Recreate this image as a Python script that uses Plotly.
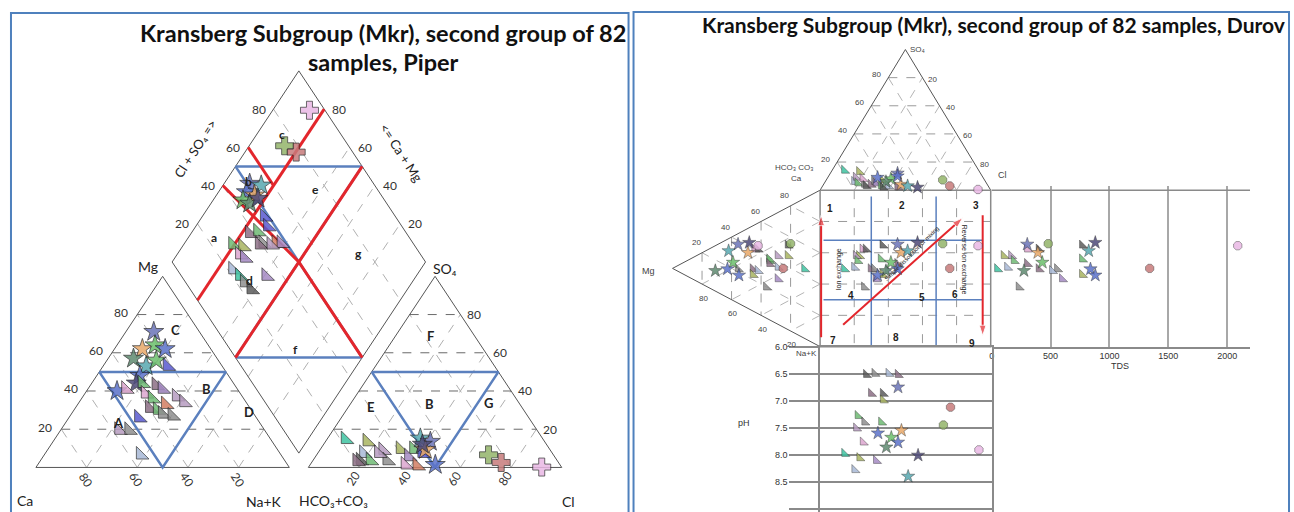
import plotly.graph_objects as go

W, H = 1294, 512

# ---------------- values ----------------
GRID = [20, 40, 60, 80]

# Piper, cation triangle: Mg % and Na+K % (Ca is the rest)
pip_cat_mg = [71, 62, 64, 62, 57, 53, 56, 48, 44, 40,
              41, 44, 43, 41, 38.5, 36, 37, 34, 31, 30, 33, 28, 27, 26, 19.5, 19.5, 6.6, 53]
pip_cat_na = [11, 11, 15, 20, 10, 17, 19.5, 17, 17.6, 12,
              15, 20, 26, 29.4, 24, 28, 37, 41.4, 29.4, 33, 34.7, 36, 40.3, 27.6, 23, 27, 38, 25.4]
pip_cat_id = ["S1", "S2", "S3", "S4", "S5", "S6", "S3", "S4", "S7", "S4",
              "T4", "T2", "T3", "T1", "T4", "T2", "T12", "T12", "T3", "T2", "T5", "T6", "T6", "T8",
              "T12", "T6", "T11", "T8"]

# Piper, anion triangle: SO4 % and Cl % (HCO3+CO3 is the rest)
pip_an_so4 = [14.7, 13.5, 9, 7.4, 3.6, 3.6, 3.6, 9.5, 9.5, 5.7, 1.4, 0.9, 7.4, 7.4, 3.1,
              15.2, 13.5, 1.4, 9.2, 12, 6.6, 2.6, 0.2]
pip_an_cl = [7.3, 16.5, 25, 18.2, 18.8, 22.7, 29.3, 31.6, 36.9, 36.8, 37.6, 42.5, 41.2, 24.1, 17.7,
             36.6, 41.4, 49.4, 41.6, 39, 67.8, 74.8, 92]
pip_an_id = ["T9", "T10", "T12", "T11", "T7", "T2", "T6", "T10", "T2", "T1", "T4", "T5", "T8", "T12", "T3",
             "S6", "S1", "S4", "S2", "S7", "X2", "X3", "X1"]

# Piper, diamond: Na+K % and Cl+SO4 %
pip_dia_na = [10.1, 15.1, 11, 15.1, 11.8, 15.3, 17.3,
              24.7, 28.5, 23.1, 25.9, 31, 36.2, 38.2, 19.5, 23.9, 24.8, 27.6, 30, 34.6, 26, 30.4, 34, 38.4, 40.8,
              14.5, 14, 20.2]
pip_dia_clso4 = [51.1, 55.2, 47.6, 50, 44.1, 45.9, 50.5,
                 48.3, 47, 38.1, 41.8, 40.8, 46, 48, 28.5, 32, 28.6, 29.7, 39, 43.6, 22, 23, 23.2, 24, 33.4,
                 93.9, 74.8, 77.7]
pip_dia_id = ["S1", "S6", "S4", "S2", "S3", "S5", "S7",
              "T8", "T8", "T3", "T2", "T6", "T5", "T1", "T2", "T10", "T4", "T1", "T3", "T12", "T11", "T9", "T6",
              "T7", "T1", "X1", "X2", "X3"]

# Durov samples
dur_so4 = [14, 13, 6, 9, 5, 4, 8, 3, 4, 6, 5, 3, 2, 7, 3, 2, 12, 4, 8, 10, 6, 3, 2, 9, 7.3, 3, 0.5]
dur_cl = [7.2, 16.5, 17.1, 16.6, 19.5, 23.9, 21, 25.4, 27.8, 28.8, 30.2, 34.2, 35.7, 33.2, 38.5, 44.4,
          39.4, 45.4, 37.5, 40.4, 35.6, 49.8, 56.1, 29.2, 68.2, 74.5, 92.3]
dur_mg = [10.6, 21.8, 28.6, 28.6, 34.3, 36.5, 44.4, 42.1, 45.5, 55.6, 28.6, 34.3, 21.8, 45.5, 42.1, 34.3,
          55.6, 48.9, 59, 62.8, 71, 62, 48, 55, 20, 25, 42]
dur_na = [45.1, 31.1, 35.1, 27.7, 28, 43.8, 15.6, 16.8, 27.7, 22.6, 42.5, 27, 24.4, 31.3, 30.5, 29.9,
          6.8, 15.5, 16.7, 19, 16, 7.8, 9.5, 26.9, 24.2, 37.5, 14.5]
dur_tds = [48, 104, 133, 167, 189, 231, 302, 401, 401, 557, 599, 769, 769, 769, 514, 302,
           302, 392, 430, 839, 274, 824, 880, 880, 480, 1342, 2090]
dur_ph = [7.98, 8.06, 8.28, 7.51, 7.28, 7.4, 7.77, 6.52, 6.87, 6.5, 8.11, 7.4, 6.87, 6.99, 6.5, 6.52,
          6.75, 7.55, 7.68, 7.77, 7.86, 8.4, 8.01, 7.6, 7.45, 7.12, 7.91]
dur_id = ["T9", "T10", "T11", "T12", "T2", "T6", "T4", "T7", "T3", "T6", "T1", "T2", "T7", "T10", "T11", "T3",
          "S1", "S2", "S3", "S4", "S5", "S6", "S7", "S4", "X2", "X3", "X1"]

ph_ticks = [6.0, 6.5, 7.0, 7.5, 8.0, 8.5, 9.0]
tds_ticks = [0, 500, 1000, 1500, 2000]

# classification lines (percent values)
piper_red = [[(20, 0), (20, 100)], [(0, 60), (20, 60)], [(0, 40), (50, 50), (100, 50)], [(50, 0), (50, 100)]]
piper_blue = [[(0, 50), (50, 100)], [(50, 0), (100, 50)], [(0, 50), (100, 50)], [(50, 0), (50, 100)]]
dur_blue_x = [30, 68]
dur_blue_y = [32, 70]
dur_arrows = [[(0.6, 94), (0.6, 16)], [(95.3, 16), (95.3, 93)], [(13.5, 86), (83.6, 17.7)]]

# ---------------- styles ----------------
COLORS = {
    "S1": "#6b74b8", "S2": "#e8a868", "S3": "#6cbf6c", "S4": "#5b72c9", "S5": "#5f8a70",
    "S6": "#58a8b0", "S7": "#4e4a78",
    "T1": "#a58ac4", "T2": "#6fba74", "T3": "#8d6f86", "T4": "#dca6cf", "T5": "#d27d62",
    "T6": "#8f8f8f", "T7": "#5c5c5c", "T8": "#5a5ad0", "T9": "#3fc4a2", "T10": "#a9b461",
    "T11": "#a9b9d6", "T12": "#b79cc0",
    "X1": "#e9b8e4", "X2": "#93b46a", "X3": "#c77b7b",
}
PIPER_SYM = {"S": ("star", 15), "T": ("triangle-sw", 14), "X": ("cross", 15)}
DUROV_SYM = {"S": ("star", 10), "T": ("triangle-sw", 9), "X": ("octagon", 9)}
RED = "#e3262c"
BLUE = "#5b80be"
FRAME = "#4f81bd"
PF = "Lato"
DF = "Liberation Sans"

# ---------------- geometry ----------------
GAP = 7.5


def cat_xy(mg, na):
    return na + mg / 2, mg


def an_xy(so4, cl):
    return 100 + GAP + cl + so4 / 2, so4


def dia_xy(na, clso4):
    return 50 + GAP / 2 + (na + clso4) / 2, 100 + GAP + clso4 - na


TOP_H, LEFT_W = 89.9, 86.5


def top_xy(so4, cl):
    return cl + so4 / 2, -so4 * TOP_H / 100


def left_xy(mg, na):
    return -mg * LEFT_W / 100, na + mg / 2


def sq_xy(x, y):
    return x, y


fig = go.Figure()


def seg(fn, pairs):
    return [fn(*p) for p in pairs]


def add_lines(segs, xa, ya, color, width=1.0, dash="solid"):
    xs, ys = [], []
    for s in segs:
        for x, y in s:
            xs.append(x)
            ys.append(y)
        xs.append(None)
        ys.append(None)
    fig.add_trace(go.Scatter(x=xs, y=ys, mode="lines", xaxis=xa, yaxis=ya,
                             line=dict(color=color, width=width, dash=dash),
                             hoverinfo="skip", showlegend=False))


def add_points(xs, ys, ids, xa, ya, symtab, lw=1.0):
    fig.add_trace(go.Scatter(
        x=xs, y=ys, mode="markers", xaxis=xa, yaxis=ya, showlegend=False, cliponaxis=False,
        marker=dict(symbol=[symtab[i[0]][0] for i in ids], size=[symtab[i[0]][1] for i in ids],
                    color=[COLORS[i] for i in ids], opacity=0.85,
                    line=dict(color="rgba(30,30,30,0.75)", width=lw))))


def txt(text, x, y, xr="x", yr="y", size=12, angle=0, dx=0, dy=0, anchor="center",
        color="#222", family=PF, bold=False):
    fig.add_annotation(text=text, x=x, y=y, xref=xr, yref=yr, showarrow=False, textangle=angle,
                       xshift=dx, yshift=-dy, xanchor=anchor, yanchor="middle",
                       font=dict(size=size, color=color, family=family, weight="bold" if bold else "normal"))


# ================= Piper =================
add_lines([seg(dia_xy, [(k, 0), (k, 100)]) for k in GRID] + [seg(dia_xy, [(0, k), (100, k)]) for k in GRID],
          "x", "y", "#b0b0b0", 1, "dash")
add_lines([seg(cat_xy, [(0, k), (100 - k, k)]) for k in GRID] +
          [seg(cat_xy, [(0, 100 - k), (100 - k, 0)]) for k in GRID] +
          [seg(an_xy, [(0, k), (100 - k, k)]) for k in GRID] +
          [seg(an_xy, [(0, 100 - k), (100 - k, 0)]) for k in GRID],
          "x", "y", "#b0b0b0", 1, "dash")
add_lines([seg(cat_xy, [(k, 0), (k, 100 - k)]) for k in GRID] +
          [seg(an_xy, [(k, 0), (k, 100 - k)]) for k in GRID],
          "x", "y", "#6a6a6a", 1, "dash")
add_lines([seg(cat_xy, [(0, 0), (100, 0), (0, 100), (0, 0)]),
           seg(an_xy, [(0, 0), (100, 0), (0, 100), (0, 0)]),
           seg(dia_xy, [(0, 0), (100, 0), (100, 100), (0, 100), (0, 0)])],
          "x", "y", "#555555", 1)
add_lines([seg(cat_xy, [(50, 0), (50, 50), (0, 50), (50, 0)]),
           seg(an_xy, [(50, 0), (50, 50), (0, 50), (50, 0)])] +
          [seg(dia_xy, s) for s in piper_blue], "x", "y", BLUE, 2.5)
add_lines([seg(dia_xy, s) for s in piper_red], "x", "y", RED, 3)

for mg_, na_, lab in [(72, 19, "C"), (41, 47, "B"), (29, 69.4, "D"), (23, 21, "A")]:
    txt(lab, *cat_xy(mg_, na_), size=13, bold=True)
for s_, c_, lab in [(69, 13.6, "F"), (31.6, 8.6, "E"), (33, 31.4, "B"), (33.7, 54.4, "G")]:
    txt(lab, *an_xy(s_, c_), size=13, bold=True)
for n_, a_, lab in [(10, 23, "a"), (9.3, 51.3, "b"), (10, 76.5, "c"), (35.6, 25.8, "d"),
                    (37.8, 75.6, "e"), (71.6, 26, "f"), (71.5, 75.7, "g")]:
    txt(lab, *dia_xy(n_, a_), size=12, bold=True)

add_points(*zip(*[cat_xy(m, n) for m, n in zip(pip_cat_mg, pip_cat_na)]), pip_cat_id, "x", "y", PIPER_SYM)
add_points(*zip(*[an_xy(s, c) for s, c in zip(pip_an_so4, pip_an_cl)]), pip_an_id, "x", "y", PIPER_SYM)
add_points(*zip(*[dia_xy(n, a) for n, a in zip(pip_dia_na, pip_dia_clso4)]), pip_dia_id, "x", "y", PIPER_SYM)

for k in GRID:
    txt(str(k), *cat_xy(k, 0), size=12, dx=-7, dy=-2, anchor="right", color="#333")
    txt(str(k), *cat_xy(0, 100 - k), size=12, angle=57, dx=-1, dy=12, color="#333")
    txt(str(k), *an_xy(k, 100 - k), size=12, dx=5, anchor="left", color="#333")
    txt(str(k), *an_xy(0, k), size=12, angle=-57, dx=-6, dy=11, color="#333")
    txt(str(k), *dia_xy(0, k), size=12, dx=-6, anchor="right", color="#333")
    txt(str(k), *dia_xy(100 - k, 100), size=12, dx=6, anchor="left", color="#333")

txt("Mg", *cat_xy(100, 0), size=14, dx=-15, dy=-10)
txt("Ca", *cat_xy(0, 0), size=14, dx=-11, dy=33)
txt("Na+K", *cat_xy(0, 100), size=14, dx=-25, dy=34)
txt("SO₄", *an_xy(100, 0), size=14, dx=10, dy=-8)
txt("HCO₃+CO₃", *an_xy(0, 0), size=14, dx=25, dy=33)
txt("Cl", *an_xy(0, 100), size=14, dx=7, dy=34)
txt("Cl + SO₄ =&gt;", *dia_xy(0, 62), size=13, angle=-57, dx=-56, dy=5)
txt("&lt;= Ca + Mg", *dia_xy(44, 100), size=13, angle=57, dx=47, dy=-2)

# ================= Durov =================
add_lines([seg(top_xy, [(0, k), (100 - k, k)]) for k in GRID] +
          [seg(top_xy, [(100 - k, 0), (0, 100 - k)]) for k in GRID] +
          [seg(left_xy, [(0, k), (100 - k, k)]) for k in GRID] +
          [seg(left_xy, [(0, 100 - k), (100 - k, 0)]) for k in GRID],
          "x2", "y2", "#b5b5b5", 1, "dash")
add_lines([seg(top_xy, [(k, 0), (k, 100 - k)]) for k in GRID] +
          [seg(left_xy, [(k, 0), (k, 100 - k)]) for k in GRID] +
          [seg(sq_xy, [(k, 0), (k, 100)]) for k in GRID] +
          [seg(sq_xy, [(0, k), (100, k)]) for k in GRID],
          "x2", "y2", "#9a9a9a", 1, "dash")
add_lines([seg(top_xy, [(0, 0), (100, 0), (0, 100)]),
           seg(left_xy, [(0, 0), (100, 0), (0, 100)])], "x2", "y2", "#555555", 1)
add_lines([seg(sq_xy, [(0, 0), (100, 0), (100, 100), (0, 100), (0, 0)])], "x2", "y2", "#8a8a8a", 1.5)
add_lines([[(v, 4), (v, 100)] for v in dur_blue_x] + [[(2, v), (95, v)] for v in dur_blue_y],
          "x2", "y2", BLUE, 1.5)

for arrow in dur_arrows:
    ax_, ay_ = zip(*arrow)
    fig.add_trace(go.Scatter(x=ax_, y=ay_, mode="lines+markers", xaxis="x2", yaxis="y2", showlegend=False,
                             hoverinfo="skip", line=dict(color=RED, width=2),
                             marker=dict(symbol="arrow", size=[0, 11], angleref="previous", color=RED)))

for lab, x, y in [("1", 5.8, 12), ("2", 48, 9.5), ("3", 91.2, 9.5), ("4", 18.1, 67), ("5", 59.6, 68.4),
                  ("6", 79, 66.5), ("7", 7.6, 96.2), ("8", 44.4, 94.3), ("9", 88.9, 98)]:
    txt(lab, x, y, "x2", "y2", size=10, family=DF, bold=True)
txt("Ion exchange", 11.1, 50.6, "x2", "y2", size=7, angle=-90, family=DF)
txt("Reverse ion exchange", 84.2, 44.3, "x2", "y2", size=7, angle=90, family=DF)
txt("Simple dissolution or mixing", 53.6, 41, "x2", "y2", size=6, angle=-45, family=DF)

for k in GRID:
    txt(str(k), *top_xy(k, 0), "x2", "y2", size=8, dx=-5, dy=-3, anchor="right", color="#444", family=DF)
    txt(str(100 - k), *top_xy(k, 100 - k), "x2", "y2", size=8, dx=4, dy=2, anchor="left", color="#444",
        family=DF)
    txt(str(100 - k), *left_xy(k, 0), "x2", "y2", size=8, dx=-6, dy=-10, color="#444", family=DF)
    txt(str(k), *left_xy(k, 100 - k), "x2", "y2", size=8, dx=1, dy=14, color="#444", family=DF)

txt("SO₄", *top_xy(100, 0), "x2", "y2", size=8, dx=3, anchor="left", color="#444", family=DF)
txt("HCO₃ CO₃", *top_xy(0, 0), "x2", "y2", size=8, dx=-26, dy=-23, color="#444", family=DF)
txt("Ca", *top_xy(0, 0), "x2", "y2", size=8, dx=-24, dy=-12, color="#444", family=DF)
txt("Cl", *top_xy(0, 100), "x2", "y2", size=9, dx=12, dy=-15, color="#444", family=DF)
txt("Mg", *left_xy(100, 0), "x2", "y2", size=9, dx=-24, dy=3, color="#444", family=DF)
txt("Na+K", *left_xy(0, 100), "x2", "y2", size=8, dx=-14, dy=7, color="#444", family=DF)

sx = [c + s / 2 for s, c in zip(dur_so4, dur_cl)]
sy = [n + m / 2 for m, n in zip(dur_mg, dur_na)]
add_points(*zip(*[top_xy(s, c) for s, c in zip(dur_so4, dur_cl)]), dur_id, "x2", "y2", DUROV_SYM, 0.6)
add_points(*zip(*[left_xy(m, n) for m, n in zip(dur_mg, dur_na)]), dur_id, "x2", "y2", DUROV_SYM, 0.6)
add_points(sx, sy, dur_id, "x2", "y2", DUROV_SYM, 0.6)
add_points(dur_tds, sy, dur_id, "x3", "y3", DUROV_SYM, 0.6)
add_points(sx, dur_ph, dur_id, "x4", "y4", DUROV_SYM, 0.6)

fig.add_shape(type="line", xref="x3", yref="y3", x0=0, x1=2195, y0=0, y1=0,
              line=dict(color="#8a8a8a", width=1.5))
txt("TDS", 1090, 1 - 365 / H, "x3", "paper", size=9, color="#333", family=DF)
txt("pH", 743 / W, 7.42, "paper", "y4", size=9, color="#333", family=DF)

# ================= frames and titles =================
for x0, x1, y1 in [(8, 627, 8), (632, 1289, 7)]:
    fig.add_shape(type="rect", xref="paper", yref="paper", x0=x0 / W, x1=x1 / W, y0=-0.1, y1=1 - y1 / H,
                  line=dict(color=FRAME, width=2))
txt("Kransberg Subgroup (Mkr), second group of 82", 381 / W, 1 - 28 / H, "paper", "paper", size=23.5,
    color="#111", bold=True)
txt("samples, Piper", 381 / W, 1 - 58 / H, "paper", "paper", size=23.5, color="#111", bold=True)
txt("Kransberg Subgroup (Mkr), second group of 82 samples, Durov", 993 / W, 1 - 20 / H,
    "paper", "paper", size=21, color="#111", bold=True)

hidden = dict(visible=False, fixedrange=True)
fig.update_layout(
    width=W, height=H, margin=dict(l=0, r=0, t=0, b=0),
    paper_bgcolor="white", plot_bgcolor="rgba(0,0,0,0)", showlegend=False,
    xaxis=dict(domain=[0, 627 / W], range=[-33 / 2.54, 594 / 2.54], **hidden),
    yaxis=dict(domain=[0, 1], range=[-45 / 1.93, 467 / 1.93], **hidden),
    xaxis2=dict(domain=[632 / W, 1], range=[-187 / 1.71, 475 / 1.71], **hidden),
    yaxis2=dict(domain=[0, 1], range=[325 / 1.58, -187 / 1.58], **hidden),
    xaxis3=dict(domain=[991 / W, 1250 / W], anchor="y3", range=[0, 259 / 59 * 500], tickvals=tds_ticks,
                showgrid=True, gridcolor="#a8a8a8", gridwidth=2, zeroline=False, showline=True,
                linecolor="#8a8a8a", linewidth=1.5, ticks="", tickfont=dict(size=9, color="#333", family=DF),
                fixedrange=True),
    yaxis3=dict(domain=[167 / H, 329 / H], anchor="x3", range=[100, -2.53], visible=False, fixedrange=True),
    xaxis4=dict(domain=[819 / W, 991 / W], anchor="y4", range=[0, 100], showline=True, mirror=True,
                linecolor="#8a8a8a", linewidth=1.5, showgrid=False, zeroline=False, showticklabels=False,
                ticks="", fixedrange=True),
    yaxis4=dict(domain=[0, 167 / H], anchor="x4", range=[6 + 167 / 54.6, 6.0], tickvals=ph_ticks,
                ticktext=["%.1f" % v for v in ph_ticks], ticks="outside", ticklen=29, tickcolor="#8a8a8a",
                tickwidth=1.5, showgrid=True, gridcolor="#8a8a8a", gridwidth=1.5, zeroline=False,
                showline=True, mirror=True, linecolor="#8a8a8a", linewidth=1.5,
                tickfont=dict(size=9, color="#333", family=DF), fixedrange=True),
)

fig.write_html("out.html", config={"displayModeBar": False},
               post_script="document.body.style.margin='0';document.body.style.overflow='hidden';")
